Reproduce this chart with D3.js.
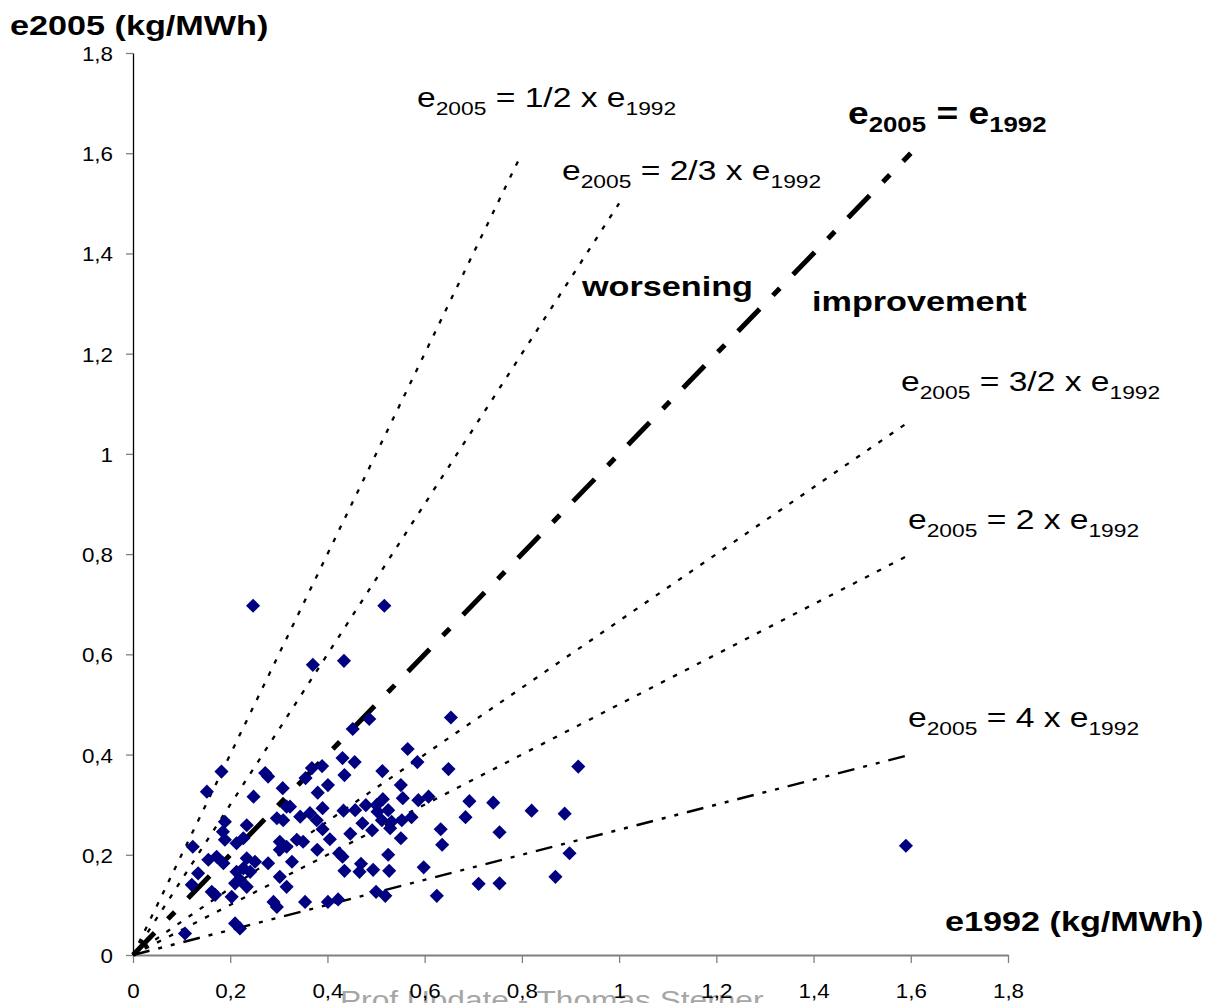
<!DOCTYPE html>
<html>
<head>
<meta charset="utf-8">
<script src="https://cdn.jsdelivr.net/npm/d3@7"></script>
<style>
  html, body { margin: 0; padding: 0; background: #fff; }
  svg { display: block; font-family: "Liberation Sans", Arial, sans-serif; }
</style>
</head>
<body>
<svg id="chart" width="1208" height="1003"></svg>
<script>
// ---------------- data ----------------
const e1992 = [
  0.247,0.517,0.370,0.434,0.452,0.486,0.654,0.565,0.585,0.431,0.456,0.513,0.649,0.916,1.590,
  0.182,0.272,0.278,0.152,0.308,0.248,0.316,0.296,0.309,0.189,0.234,0.185,0.189,0.213,0.227,
  0.302,0.316,0.302,0.123,0.155,0.172,0.186,0.234,0.251,0.278,0.227,0.213,0.241,0.134,0.302,
  0.220,0.210,0.121,0.234,0.316,0.162,0.169,0.203,0.289,0.296,0.210,0.220,0.107,
  0.368,0.389,0.355,0.435,0.401,0.380,0.551,0.555,0.587,0.608,0.514,0.479,0.501,0.390,0.433,
  0.457,0.323,0.344,0.364,0.378,0.503,0.525,0.512,0.532,0.553,0.573,0.472,0.492,0.529,0.551,
  0.390,0.447,0.405,0.337,0.350,0.379,0.424,0.431,0.525,0.469,0.435,0.466,0.494,0.527,0.598,
  0.500,0.519,0.354,0.401,0.422,0.327,
  0.692,0.741,0.820,0.888,0.684,0.633,0.754,0.636,0.898,0.869,0.711,0.754,0.625
];
const e2005 = [
  0.697,0.697,0.579,0.587,0.451,0.471,0.474,0.411,0.385,0.393,0.385,0.367,0.371,0.376,0.218,
  0.366,0.363,0.356,0.326,0.333,0.316,0.296,0.273,0.269,0.266,0.259,0.246,0.230,0.223,0.233,
  0.226,0.216,0.210,0.216,0.190,0.196,0.183,0.193,0.186,0.183,0.173,0.166,0.166,0.163,0.156,
  0.150,0.143,0.140,0.136,0.136,0.126,0.120,0.116,0.106,0.096,0.063,0.053,0.043,
  0.373,0.377,0.353,0.359,0.339,0.324,0.339,0.313,0.309,0.316,0.311,0.299,0.299,0.293,0.288,
  0.289,0.296,0.276,0.283,0.269,0.286,0.289,0.269,0.266,0.269,0.275,0.263,0.249,0.253,0.233,
  0.251,0.242,0.231,0.230,0.226,0.210,0.203,0.196,0.200,0.182,0.168,0.166,0.170,0.168,0.175,
  0.126,0.118,0.106,0.106,0.111,0.186,
  0.307,0.304,0.288,0.282,0.275,0.251,0.245,0.220,0.203,0.156,0.142,0.143,0.118
];

const xTickValues = [0,0.2,0.4,0.6,0.8,1,1.2,1.4,1.6,1.8];
const xTickLabels = ["0","0,2","0,4","0,6","0,8","1","1,2","1,4","1,6","1,8"];
const yTickValues = [0,0.2,0.4,0.6,0.8,1,1.2,1.4,1.6,1.8];
const yTickLabels = ["0","0,2","0,4","0,6","0,8","1","1,2","1,4","1,6","1,8"];

// reference lines e2005 = k * e1992
const refSlopes = [2, 1.5, 1, 1/1.5, 0.5, 0.25];
const refEndX   = [0.8, 1.0, 1.6, 1.6, 1.6, 1.6];
const refText   = ["1/2 x ", "2/3 x ", "", "3/2 x ", "2 x ", "4 x "];

const xTitle = "e1992 (kg/MWh)";
const yTitle = "e2005 (kg/MWh)";
const watermark = "Prof Update - Thomas Sterner";

// ---------------- layout ----------------
const svg = d3.select("#chart");
const SX = 1.2; // horizontal stretch of text in the reference
const x = d3.scaleLinear().domain([0, 1.8]).range([133, 1008]);
const y = d3.scaleLinear().domain([0, 1.8]).range([955, 53]);

// watermark (behind everything)
svg.append("g").attr("transform", "translate(340,1009) scale(1.2,1)")
  .append("text").attr("font-size", 26.4).attr("fill", "#a6a6a6").text(watermark);

// axes
const yAxis = svg.append("g").attr("transform", "translate(133,0)")
  .call(d3.axisLeft(y).tickValues(yTickValues).tickSize(7).tickSizeOuter(0)
        .tickFormat((d, i) => yTickLabels[i]));
yAxis.select(".domain").attr("stroke", "#000").attr("stroke-width", 1.3);
yAxis.selectAll(".tick line").attr("stroke", "#808080").attr("stroke-width", 1.3);
yAxis.selectAll(".tick text")
  .attr("x", null).attr("dy", null)
  .attr("transform", "translate(-20,7.5) scale(1.12,1)")
  .attr("font-size", 20).attr("fill", "#000")
  .attr("font-family", "Liberation Sans, Arial, sans-serif");

const xAxis = svg.append("g").attr("transform", "translate(0,955)")
  .call(d3.axisBottom(x).tickValues(xTickValues).tickSize(8).tickSizeOuter(0)
        .tickFormat((d, i) => xTickLabels[i]));
xAxis.select(".domain").attr("stroke", "#808080").attr("stroke-width", 2);
xAxis.selectAll(".tick line").attr("stroke", "#808080").attr("stroke-width", 1.3);
xAxis.selectAll(".tick text")
  .attr("y", null).attr("dy", null)
  .attr("transform", "translate(0,43) scale(1.12,1)")
  .attr("font-size", 20).attr("fill", "#000")
  .attr("font-family", "Liberation Sans, Arial, sans-serif");

// reference lines
const refStyles = [
  {w: 2.3, dash: "4.5,9"},
  {w: 2.3, dash: "4.5,9"},
  {w: 5, dash: "31,19,10,19"},
  {w: 2.3, dash: "4.5,9"},
  {w: 2.3, dash: "4.5,9"},
  {w: 2.4, dash: "17,9,4,9,4,9"}
];
refSlopes.forEach((k, i) => {
  svg.append("line")
    .attr("x1", x(0)).attr("y1", y(0))
    .attr("x2", x(refEndX[i])).attr("y2", y(k * refEndX[i]))
    .attr("stroke", "#000")
    .attr("stroke-width", refStyles[i].w)
    .attr("stroke-dasharray", refStyles[i].dash);
});

// points
const pts = e1992.map((v, i) => ({x: v, y: e2005[i]}));
svg.append("g").selectAll("path").data(pts).join("path")
  .attr("d", d3.symbol().type(d3.symbolSquare).size(100))
  .attr("transform", d => `translate(${x(d.x)},${y(d.y)}) rotate(45)`)
  .attr("fill", "#000080");

// text helper
function label(px, py, parts, size, bold, anchor) {
  const g = svg.append("g").attr("transform", `translate(${px},${py}) scale(${SX},1)`);
  const t = g.append("text").attr("font-size", size)
    .attr("font-weight", bold ? "bold" : "normal").attr("fill", "#000")
    .attr("text-anchor", anchor || "start");
  parts.forEach(p => {
    const s = t.append("tspan").text(p.t);
    if (p.sub) s.attr("font-size", p.sub).attr("dy", p.dy);
    else if (p.dy) s.attr("dy", p.dy);
  });
  return t;
}
function eqParts(mid, size, subSize, off) {
  return [
    {t: "e"}, {t: "2005", sub: subSize, dy: off},
    {t: " = " + mid + "e", dy: -off},
    {t: "1992", sub: subSize, dy: off}
  ];
}

// equation labels
label(417, 107, eqParts(refText[0], 28, 19, 8), 28, false);
label(562, 180, eqParts(refText[1], 28, 19, 8), 28, false);
label(848, 124, eqParts(refText[2], 31, 21.5, 8), 31, true);
label(901, 391, eqParts(refText[3], 28, 19, 8), 28, false);
label(908, 529, eqParts(refText[4], 28, 19, 8), 28, false);
label(908, 727, eqParts(refText[5], 28, 19, 8), 28, false);

label(582, 296, [{t: "worsening"}], 28.5, true);
label(812, 311, [{t: "improvement"}], 28.5, true);

label(10, 35, [{t: yTitle}], 28.5, true);
label(945, 931, [{t: xTitle}], 28.5, true);
</script>
</body>
</html>
